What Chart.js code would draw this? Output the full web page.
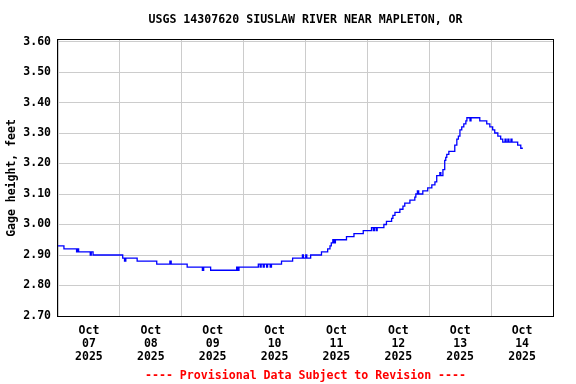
<!DOCTYPE html>
<html>
<head>
<meta charset="utf-8">
<script src="https://cdn.jsdelivr.net/npm/chart.js@4"></script>
<style>
  html, body { margin: 0; padding: 0; background: #fff; }
  #wrap { width: 576px; height: 384px; }
</style>
</head>
<body>
<div id="wrap"><canvas id="myChart" width="576" height="384"></canvas></div>
<script>
"use strict"

// hours since Oct 07 2025 00:00, and gage height in feet (step data)
const hours = [0, 2.3, 7.2, 7.6, 8.0, 8.6, 12.5, 12.9, 13.6, 14.3,
    25.1, 25.8, 26.3, 30.7, 38.3, 38.9, 43.4, 43.9, 50.1, 56.0, 56.5, 59.2,
    69.3, 69.8, 70.2, 77.7, 78.4, 78.8, 79.6, 80.0, 80.9, 81.3, 82.3, 82.8, 86.7,
    91.0, 94.8, 95.2, 96.1, 96.5, 98.0, 102.2, 104.6, 105.5, 106.0, 106.6, 107.1, 107.6,
    111.9, 114.8, 118.4, 121.6, 122.3, 122.7, 123.4, 123.8, 126.4, 127.4, 129.4, 129.9,
    130.7, 132.6, 133.8, 134.5, 136.5, 138.4, 138.8, 139.4, 139.9, 141.5, 143.4, 145.0,
    146.2, 146.9, 148.1, 148.5, 149.3, 150.0, 150.4, 150.8, 151.6, 153.9, 154.7, 155.3,
    155.9, 156.6, 157.4, 158.2, 158.6, 159.8, 160.2, 163.6, 166.3, 167.5, 168.6, 169.4,
    170.6, 171.7, 172.5, 173.4, 173.8, 174.5, 174.9, 175.7, 176.1, 178.3, 179.5, 180.3]
const gage = [2.93, 2.92, 2.91, 2.92, 2.91, 2.91, 2.90, 2.91, 2.90, 2.90,
    2.89, 2.88, 2.89, 2.88, 2.87, 2.87, 2.88, 2.87, 2.86, 2.85, 2.86, 2.85,
    2.86, 2.85, 2.86, 2.87, 2.86, 2.87, 2.86, 2.87, 2.86, 2.87, 2.86, 2.87, 2.88,
    2.89, 2.90, 2.89, 2.90, 2.89, 2.90, 2.91, 2.92, 2.93, 2.94, 2.95, 2.94, 2.95,
    2.96, 2.97, 2.98, 2.99, 2.98, 2.99, 2.98, 2.99, 3.00, 3.01, 3.02, 3.03,
    3.04, 3.05, 3.06, 3.07, 3.08, 3.09, 3.10, 3.11, 3.10, 3.11, 3.12, 3.13,
    3.14, 3.16, 3.17, 3.16, 3.18, 3.21, 3.22, 3.23, 3.24, 3.26, 3.28, 3.29,
    3.31, 3.32, 3.33, 3.34, 3.35, 3.34, 3.35, 3.34, 3.33, 3.32, 3.31, 3.30,
    3.29, 3.28, 3.27, 3.28, 3.27, 3.28, 3.27, 3.28, 3.27, 3.26, 3.25, 3.25]

const dayLabels = ['07', '08', '09', '10', '11', '12', '13', '14']
const yTicks = [2.70, 2.80, 2.90, 3.00, 3.10, 3.20, 3.30, 3.40, 3.50, 3.60]
const chartTitle = 'USGS 14307620 SIUSLAW RIVER NEAR MAPLETON, OR'
const footerText = '---- Provisional Data Subject to Revision ----'

const FONT = "'DejaVu Sans Mono', monospace"

// title, footer and the box round the plot
const usgsFrame = {
    id: 'usgsFrame',
    beforeDatasetsDraw(chart) {
        const a = chart.chartArea
        const c = chart.ctx
        c.save()
        c.strokeStyle = '#000'
        c.lineWidth = 1
        c.strokeRect(Math.round(a.left) - 0.5, Math.round(a.top) - 0.5,
            Math.round(a.right - a.left) + 1, Math.round(a.bottom - a.top) + 1)
        c.restore()
    },
    afterDraw(chart) {
        const a = chart.chartArea
        const c = chart.ctx
        const cx = (a.left + a.right) / 2
        c.save()
        c.textAlign = 'center'
        c.textBaseline = 'middle'
        c.font = 'bold 11.6px ' + FONT
        c.fillStyle = '#000'
        c.fillText(chartTitle, cx, 19.5)
        c.font = 'bold 11.6px ' + FONT
        c.fillStyle = '#ff0000'
        c.fillText(footerText, cx, 375.5)
        c.restore()
    }
}

const points = hours.map((h, i) => ({ x: h, y: gage[i] }))

const ctx = document.getElementById('myChart')
const gage_chart = new Chart(ctx, {
    type: 'line',
    data: {
        datasets: [{
            data: points,
            borderColor: '#0000ff',
            borderWidth: 1.3,
            pointRadius: 0,
            stepped: true,
            fill: false
        }]
    },
    options: {
        responsive: false,
        animation: false,
        layout: { padding: { left: 0, right: 23, top: 40, bottom: 0 } },
        plugins: {
            legend: { display: false },
            title: { display: false },
            tooltip: { enabled: false }
        },
        scales: {
            x: {
                type: 'linear',
                min: 0,
                max: 192,
                border: { display: false },
                afterBuildTicks(axis) {
                    const t = []
                    for (let v = 0; v <= 192; v += 12) t.push({ value: v })
                    axis.ticks = t
                },
                afterFit(scale) { scale.height = 68 },
                grid: {
                    drawTicks: false,
                    color: (c) => (c.tick && c.tick.value % 24 === 0) ? '#cccccc' : 'rgba(0,0,0,0)',
                    lineWidth: 1
                },
                ticks: {
                    autoSkip: false,
                    maxRotation: 0,
                    padding: 8,
                    color: '#000',
                    font: { family: FONT, weight: 'bold', size: 11.5, lineHeight: 1.15 },
                    callback: (v) => {
                        if (v % 24 !== 12) return ''
                        return ['Oct', dayLabels[Math.floor(v / 24)], '2025']
                    }
                }
            },
            y: {
                min: 2.70,
                max: 3.605,
                border: { display: false },
                afterBuildTicks(axis) {
                    axis.ticks = yTicks.map(v => ({ value: v }))
                },
                afterFit(scale) { scale.width = 58 },
                grid: { drawTicks: false, color: '#cccccc', lineWidth: 1 },
                ticks: {
                    padding: 7,
                    color: '#000',
                    font: { family: FONT, weight: 'bold', size: 11.5 },
                    callback: (v) => Number(v).toFixed(2)
                },
                title: {
                    display: true,
                    text: 'Gage height, feet',
                    color: '#000',
                    padding: { top: 5, bottom: 4 },
                    font: { family: FONT, weight: 'bold', size: 11.5 }
                }
            }
        }
    },
    plugins: [usgsFrame]
})
</script>
</body>
</html>
